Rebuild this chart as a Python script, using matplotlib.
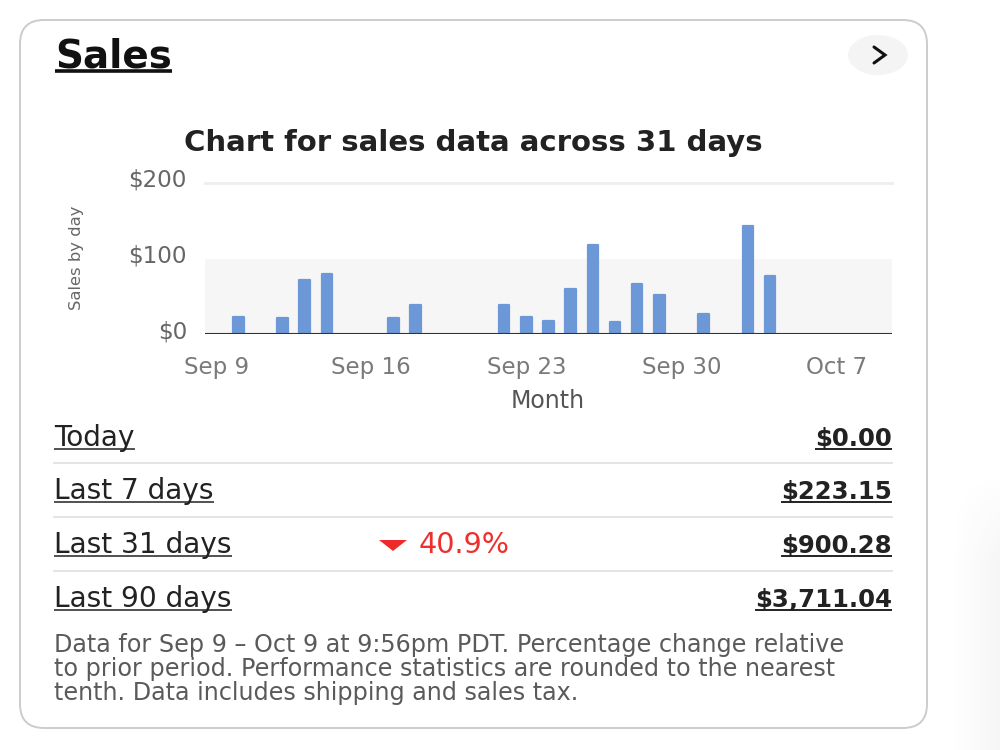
import matplotlib
matplotlib.use("Agg")
import matplotlib.pyplot as plt
import matplotlib.transforms as mtransforms
from matplotlib.patches import FancyBboxPatch, Ellipse, Polygon
import numpy as np
import pandas as pd

# ---------------- data ----------------
bar_dates = ["2024-09-10", "2024-09-12", "2024-09-13", "2024-09-14",
             "2024-09-17", "2024-09-18", "2024-09-22", "2024-09-23",
             "2024-09-24", "2024-09-25", "2024-09-26", "2024-09-27",
             "2024-09-28", "2024-09-29", "2024-10-01", "2024-10-03",
             "2024-10-04"]
bar_sales = [23, 21, 71, 79, 21, 39, 39, 23, 17, 59, 118, 16, 66, 51, 26, 143, 77]

tick_dates = ["2024-09-09", "2024-09-16", "2024-09-23", "2024-09-30", "2024-10-07"]
tick_labels = ["Sep 9", "Sep 16", "Sep 23", "Sep 30", "Oct 7"]
y_ticks = [0, 100, 200]
y_tick_labels = ["$0", "$100", "$200"]
x_range = ["2024-09-08 12:00", "2024-10-09 12:00"]

row_labels = ["Today", "Last 7 days", "Last 31 days", "Last 90 days"]
row_values = ["$0.00", "$223.15", "$900.28", "$3,711.04"]
change_text = "40.9%"
change_row = 2

card_title = "Sales"
chart_title = "Chart for sales data across 31 days"
y_label = "Sales by day"
x_label = "Month"
footnote = ["Data for Sep 9 \u2013 Oct 9 at 9:56pm PDT. Percentage change relative",
            "to prior period. Performance statistics are rounded to the nearest",
            "tenth. Data includes shipping and sales tax."]

# ---------------- figure ----------------
fig = plt.figure(figsize=(10, 7.5), dpi=100)
fig.patch.set_facecolor("white")

bg = fig.add_axes([0, 0, 1, 1])
bg.set_xlim(0, 1000)
bg.set_ylim(750, 0)
bg.axis("off")

# soft shadow on the right
H, W = 280, 50
xs = np.linspace(0, 1, W)
ys = np.linspace(0, 1, H)
alpha = np.clip(xs[None, :], 0, 1) * np.clip(ys[:, None] * 3.0, 0, 1) * 0.05
rgba = np.zeros((H, W, 4))
rgba[..., :3] = 0.3
rgba[..., 3] = alpha
bg.imshow(rgba, extent=[950, 1000, 750, 470], aspect="auto", zorder=0)

card = FancyBboxPatch((20, 20), 907, 708, boxstyle="round,pad=0,rounding_size=24",
                      fc="white", ec="#cccccc", lw=1.4, zorder=1)
bg.add_patch(card)

# chevron button
bg.add_patch(Ellipse((878, 55), 60, 40, fc="#f4f4f4", ec="none", zorder=2))
bg.plot([874, 885, 874], [47, 55, 63], color="#111111", lw=2.2,
        solid_capstyle="round", solid_joinstyle="miter", zorder=3)

underlines = []

t = bg.text(55, 67, card_title, fontsize=28, fontweight="bold", color="#111111",
            family="DejaVu Sans", va="baseline", ha="left", zorder=3)
underlines.append((t, 71, 2.6, "#111111"))

bg.text(473, 143, chart_title, fontsize=21, fontweight="bold", color="#222222",
        family="DejaVu Sans", va="center", ha="center", zorder=3)

row_base = [446, 499, 553, 607]
sep_y = [463, 517, 571]
for i, (lab, val) in enumerate(zip(row_labels, row_values)):
    t1 = bg.text(54, row_base[i], lab, fontsize=20.2, color="#222222",
                 family="DejaVu Sans", va="baseline", ha="left", zorder=3)
    underlines.append((t1, row_base[i] + 3, 1.1, "#222222"))
    t2 = bg.text(892, row_base[i], val, fontsize=17.6, fontweight="bold", color="#222222",
                 family="DejaVu Sans", va="baseline", ha="right", zorder=3)
    underlines.append((t2, row_base[i] + 3, 1.4, "#222222"))
for y in sep_y:
    bg.plot([54, 892], [y, y], color="#e4e4e4", lw=1.4, zorder=2)

# change indicator
cy = row_base[change_row]
bg.add_patch(Polygon([[379, cy - 13], [407, cy - 13], [393, cy - 2]], closed=True,
                     fc="#ee2b2b", ec="none", zorder=3))
bg.text(419, cy, change_text, fontsize=20.6, color="#ef2e2e",
        family="DejaVu Sans", va="baseline", ha="left", zorder=3)

for i, line in enumerate(footnote):
    bg.text(54, 645 + 24 * i, line, fontsize=17.2, color="#5a5a5a",
            family="DejaVu Sans", va="center", ha="left", zorder=3)

# ---------------- chart ----------------
ax = fig.add_axes([205 / 1000, 1 - 334 / 750, 687 / 1000, 151 / 750])
ax.set_facecolor("none")
ax.set_zorder(5)
xd = pd.to_datetime(bar_dates)
ax.axhspan(0, 100, color="#f6f6f6", zorder=0, lw=0)
ax.axhline(200, color="#eeeeee", lw=2, zorder=1, clip_on=False)
ax.bar(xd, bar_sales, width=0.48, color="#6c98d8", edgecolor="#6c98d8",
       linewidth=1.6, joinstyle="round", zorder=2)
ax.axhline(0, color="#333333", lw=1.5, zorder=3)

ax.set_xlim(pd.to_datetime(x_range[0]), pd.to_datetime(x_range[1]))
ax.set_ylim(0, 200)
for s in ax.spines.values():
    s.set_visible(False)
ax.set_xticks(pd.to_datetime(tick_dates))
ax.set_xticklabels(tick_labels)
ax.set_yticks(y_ticks)
ax.set_yticklabels(y_tick_labels)
ax.tick_params(axis="both", length=0)
ax.tick_params(axis="x", pad=16, labelsize=16.5, labelcolor="#7a7a7a")
ax.tick_params(axis="y", pad=13, labelsize=16.6, labelcolor="#666666")
for lab in ax.get_yticklabels():
    lab.set_transform(lab.get_transform() +
                      mtransforms.ScaledTranslation(0, 5 / 100, fig.dpi_scale_trans))
for lab in ax.get_xticklabels() + ax.get_yticklabels():
    lab.set_family("DejaVu Sans")

bg.text(548, 401, x_label, fontsize=17, color="#555555", family="DejaVu Sans",
        va="center", ha="center", zorder=3)
bg.text(77, 258, y_label, fontsize=11.8, color="#666666", family="DejaVu Sans",
        va="center", ha="center", rotation=90, zorder=3)

# underlines
fig.canvas.draw()
r = fig.canvas.get_renderer()
inv = bg.transData.inverted()
for t, y, lw, c in underlines:
    bb = t.get_window_extent(r)
    x0 = inv.transform((bb.x0, bb.y0))[0]
    x1 = inv.transform((bb.x1, bb.y0))[0]
    bg.plot([x0, x1], [y, y], color=c, lw=lw, zorder=3, solid_capstyle="butt")

fig.savefig("out.png", dpi=100, facecolor="white")
